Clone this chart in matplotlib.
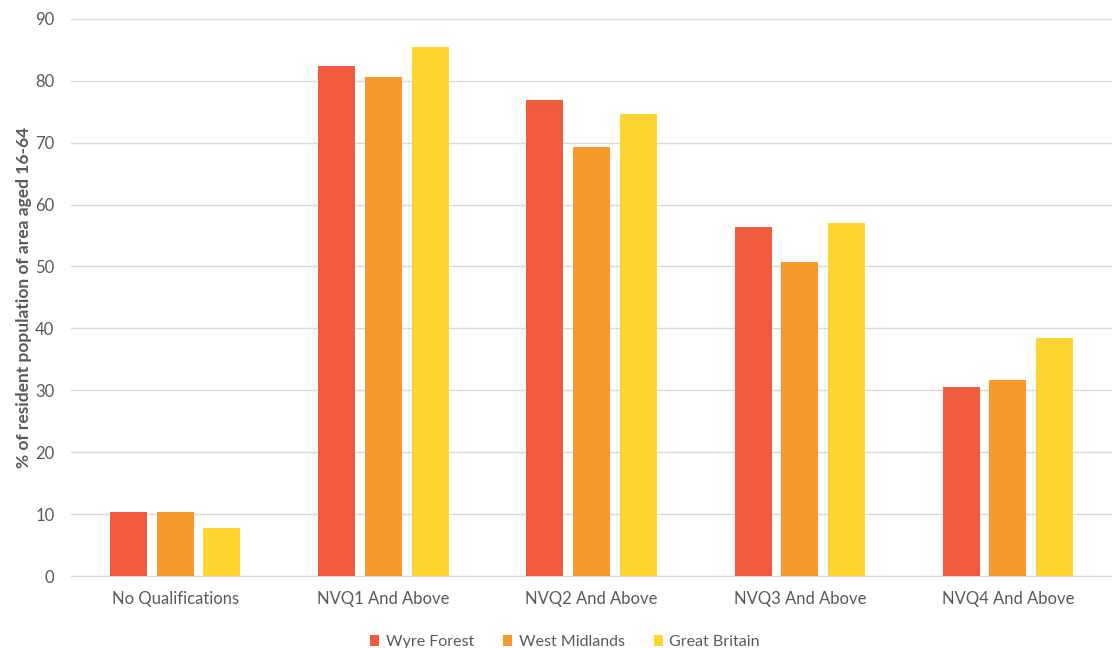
import numpy as np
import matplotlib
matplotlib.use("Agg")
import matplotlib.pyplot as plt

categories = ["No Qualifications", "NVQ1 And Above", "NVQ2 And Above",
              "NVQ3 And Above", "NVQ4 And Above"]
wyre_forest = [10.3, 82.4, 76.9, 56.3, 30.6]
west_midlands = [10.3, 80.6, 69.3, 50.7, 31.7]
great_britain = [7.7, 85.5, 74.6, 57.1, 38.5]
series_names = ["Wyre Forest", "West Midlands", "Great Britain"]
colors = ["#F15A3A", "#F7992B", "#FED531"]

plt.rcParams['font.family'] = ['Lato', 'DejaVu Sans']
text_col = "#595959"

fig = plt.figure(figsize=(11.12, 6.48), dpi=100)
ax = fig.add_axes([0.064, 0.111, 0.936, 0.86])

x = np.arange(len(categories))
w = 0.178
step = 0.224
for i, (vals, name, c) in enumerate(zip([wyre_forest, west_midlands, great_britain],
                                        series_names, colors)):
    ax.bar(x + (i - 1) * step, vals, width=w, color=c, label=name, zorder=3)

ax.set_xlim(-0.5, len(categories) - 0.5)
ax.set_ylim(0, 90)
ax.set_yticks(np.arange(0, 91, 10))
ax.set_xticks(x)
ax.set_xticklabels(categories)
ax.grid(axis='y', color='#D9D9D9', linewidth=1, zorder=0)
for s in ['top', 'right', 'left']:
    ax.spines[s].set_visible(False)
ax.spines['bottom'].set_color('#D9D9D9')
ax.tick_params(axis='both', length=0, colors=text_col, labelsize=12)
ax.tick_params(axis='y', pad=12)
ax.tick_params(axis='x', pad=11)
ax.set_ylabel("% of resident population of area aged 16-64", fontsize=12.5,
              fontweight='bold', color=text_col, labelpad=2)

leg = fig.legend(loc='lower center', bbox_to_anchor=(0.508, -0.024), ncol=3, frameon=False,
                 fontsize=11.5, handlelength=0.6, handleheight=0.6, handletextpad=0.4,
                 columnspacing=1.8)
for t in leg.get_texts():
    t.set_color(text_col)

fig.savefig("out.png", dpi=100)
